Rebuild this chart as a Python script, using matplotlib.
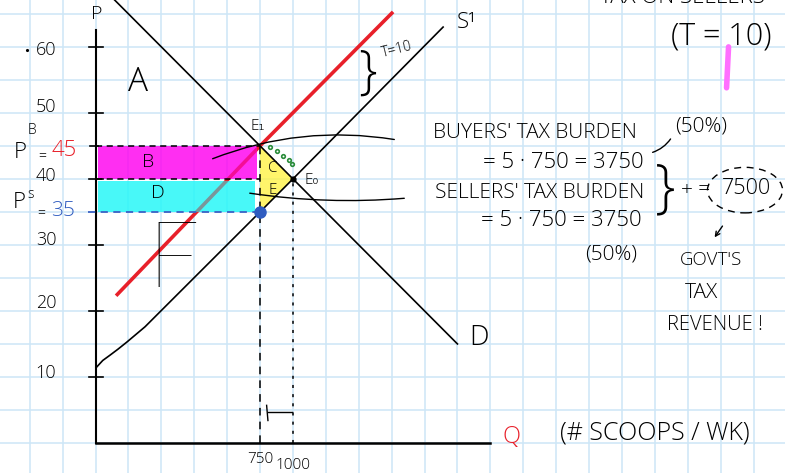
import matplotlib
matplotlib.use("Agg")
import matplotlib.pyplot as plt
from matplotlib.patches import Ellipse, Polygon

plt.rcParams['font.family'] = ['Open Sans', 'DejaVu Sans']
plt.rcParams['font.weight'] = 'light'

# --- data ---
q_tax = 750          # quantity with the tax
q_eq = 1000          # quantity without the tax
p_buyers = 45        # price buyers pay
p_eq = 40            # old equilibrium price
p_sellers = 35       # price sellers keep
tax = 10

demand_q = [-450, 750, 1000, 2250]
demand_p = [69, 45, 40, 15]

supply_q = [-496, -445, -390, -330, -261, -124, 750, 1000, 2141]
supply_p = [11.4, 12.5, 13.3, 14.2, 15.3, 17.6, 35, 40, 63.0]

taxed_q = [-344, 750, 1761]
taxed_p = [22.3, 45, 65.3]

y_ticks = [10, 20, 30, 40, 50, 60]
y_tick_nudge = [0.6, 1.2, 0.8, 0.4, 0.9, -0.4]   # hand-written labels sit a bit off
x_ticks = [750, 1000]
x_tick_labels = ["750", "1000"]

# green dots along the demand side of the triangle
green_q = [826, 880, 925, 968, 993]
green_p = [44.8, 44.2, 43.4, 42.9, 42.3]

# sketch page: axis fills the whole picture
q_left, q_right = -1226, 4739
p_bottom, p_top = -4.55, 67.1
q_axis = -500        # where the P axis was drawn

fig = plt.figure(figsize=(7.85, 4.73), dpi=100)
ax = fig.add_axes([0, 0, 1, 1])
ax.set_xlim(q_left, q_right)
ax.set_ylim(p_bottom, p_top)
ax.axis('off')


def spot(x, y):
    # pixel position on the page -> axes fraction
    return x / 785, 1 - y / 473


def write(x, y, s, size, **kw):
    kw.setdefault('color', 'black')
    ax.text(*spot(x, y), s, fontsize=size, transform=ax.transAxes,
            ha=kw.pop('ha', 'center'), va=kw.pop('va', 'center'), zorder=6, **kw)


# grid paper
grid_col = '#cde6f7'
q = -1000
while q < q_right:
    ax.axvline(q, color=grid_col, lw=1.1, zorder=0)
    q += 250
p = 0
while p < p_top:
    ax.axhline(p, color=grid_col, lw=1.1, zorder=0)
    p += 5

# highlighter bands (two passes so the red line shows through greyish)
for alpha, z in [(0.6, 1), (0.55, 3)]:
    ax.fill_between([q_axis + 20, q_tax - 25], p_eq, p_buyers, color='#ff00f0',
                    alpha=alpha, lw=0, zorder=z)
    ax.fill_between([q_axis + 20, q_tax - 35], p_sellers, p_eq - 0.25, color='#20f8f8',
                    alpha=alpha, lw=0, zorder=z)

# deadweight loss triangle
tri = Polygon([[q_tax, p_buyers], [q_eq, p_eq], [q_tax, p_sellers]], closed=True,
              color='#fff23a', alpha=0.75, lw=0, zorder=3)
ax.add_patch(tri)

# curves
ax.plot(taxed_q, taxed_p, color='#e8202a', lw=2.6, zorder=2, solid_capstyle='butt')
ax.plot(demand_q, demand_p, color='black', lw=1.2, zorder=4)
ax.plot(supply_q, supply_p, color='black', lw=1.2, zorder=4)

# axes of the sketch
ax.plot([q_axis, q_axis], [0, 62.5], color='black', lw=1.5, zorder=4)
ax.plot([q_axis, 2500], [0, 0], color='black', lw=1.8, zorder=4)
for t, dy in zip(y_ticks, y_tick_nudge):
    ax.plot([q_axis - 50, q_axis + 55], [t, t], color='black', lw=1.2, zorder=4)
    ax.text(spot(46, 0)[0], t + dy, str(t), fontsize=13, ha='center', va='center',
            transform=ax.get_yaxis_transform(), zorder=6)
ax.plot([q_axis - 40, q_axis + 20], [p_buyers, p_buyers], color='black', lw=1.2, zorder=4)
for q, lab, dy in zip(x_ticks, x_tick_labels, [-2.5, -3.4]):
    ax.text(q, dy, lab, fontsize=11, ha='center', va='center', zorder=6)
ax.plot(-1020, 59.5, 'k.', ms=2.5)

# dashed guides
ax.plot([q_axis, q_tax], [p_buyers, p_buyers], color='black', lw=1.1, ls=(0, (4, 3)), zorder=4)
ax.plot([q_axis, q_tax], [p_eq, p_eq], color='black', lw=1.1, ls=(0, (4, 3)), zorder=4)
ax.plot([q_axis - 60, q_tax], [p_sellers, p_sellers], color='#3b62c4', lw=1.3,
        ls=(0, (4, 3)), zorder=4)
ax.plot([q_tax, q_tax], [0, p_buyers], color='black', lw=1.1, ls=(0, (5, 4)), zorder=4)
ax.plot([q_eq, q_eq], [0, p_eq], color='black', lw=1.1, ls=(0, (2, 4)), zorder=4)

# points
ax.plot(q_tax, p_sellers, 'o', color='#2f5cc0', ms=8, zorder=5)
ax.plot(q_eq, p_eq, 'o', color='black', ms=3.5, zorder=5)
ax.plot(green_q, green_p, 'o', color='#2a8c3a', ms=2.6, mfc='none', mew=1.2, zorder=5)

# quantity drop mark
ax.plot([q_tax + 60, q_eq - 10], [4.7, 4.7], color='black', lw=1, zorder=4)
ax.plot([q_tax + 60, q_tax + 50], [3.4, 5.7], color='black', lw=1, zorder=4)

# connectors from the notes
ax.annotate('', xy=(370, 42.9), xytext=(1791, 45.9),
            arrowprops=dict(arrowstyle='-', lw=1, connectionstyle='arc3,rad=0.14'))
ax.annotate('', xy=(651, 37.9), xytext=(1867, 37.1),
            arrowprops=dict(arrowstyle='-', lw=1, connectionstyle='arc3,rad=-0.06'))
ax.annotate('', xy=(3713, 43.9), xytext=(3881, 46.4),
            arrowprops=dict(arrowstyle='-', lw=1, connectionstyle='arc3,rad=-0.2'))
ax.annotate('', xy=(4192, 30.8), xytext=(4276, 33.2),
            arrowprops=dict(arrowstyle='->', lw=1, mutation_scale=8))

# dashed ring round the revenue
ax.add_patch(Ellipse((4435, 38.3), 570, 6.9, fill=False, ls=(0, (5, 4)), lw=1, zorder=5))

# highlighter tick by the (T = 10)
ax.plot([4310, 4295], [60, 53.8], color='#ff70ff', lw=4, solid_capstyle='round', zorder=3)

# labels
write(97, 14, 'P', 14)
write(20, 153, 'P', 16)
write(32, 130, 'B', 10)
write(42, 157, '=', 10)
write(64, 150, '45', 16, color='#e8202a')
write(19, 203, 'P', 16)
write(31, 195, 's', 10)
write(41, 214, '=', 10)
write(63, 211, '35', 15, color='#2f5cc0')

write(138, 82, 'A', 24)
write(148, 162, 'B', 14)
write(158, 193, 'D', 14)
write(173, 262, 'F', 66, family='Lato', fontweight=100)
write(273, 168, 'C', 11)
write(273, 190, 'E', 11)
write(258, 126, 'E\u2081', 11)
write(312, 181, 'E\u2080', 11)
write(467, 22, 'S\u00b9', 16)
write(479, 338, 'D', 20)
write(367, 74, '}', 38)
write(397, 50, 'T=10', 10, rotation=14)
write(511, 437, 'Q', 17, color='#e8202a')
write(655, 433, '(# SCOOPS / WK)', 18)

write(535, 133, "BUYERS' TAX BURDEN", 15)
write(563, 163, '= 5 \u00b7 750 = 3750', 16)
write(540, 193, "SELLERS' TAX BURDEN", 15)
write(561, 221, '= 5 \u00b7 750 = 3750', 16)
write(701, 127, '(50%)', 15)
write(611, 255, '(50%)', 15)
write(665, 190, '}', 42)
write(696, 190, '+ =', 15)
write(746, 189, '7500', 15.5)
write(721, 36, '(T = 10)', 22)
write(711, 260, "GOVT'S", 13.5)
write(701, 293, 'TAX', 15)
write(715, 325, 'REVENUE !', 14.5)
write(600, 8, 'TAX ON SELLERS', 16, ha='left', va='bottom')

fig.savefig('out.png', dpi=100)
